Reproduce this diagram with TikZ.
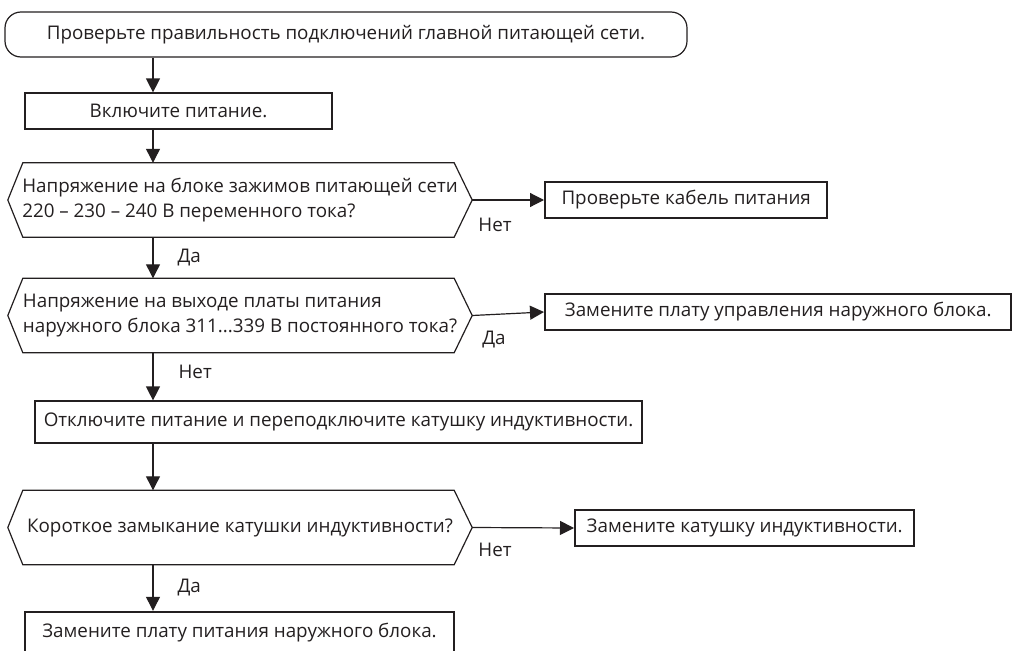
\documentclass[tikz,border=0pt]{standalone}
\usepackage{fontspec}
\setmainfont{Open Sans}
\usetikzlibrary{arrows.meta,positioning}
\definecolor{ink}{RGB}{35,31,32}

\begin{document}
\begin{tikzpicture}[x=1pt,y=-1pt,every node/.style={font=\fontsize{18.8}{25}\selectfont,text=ink},
  arr/.style={-{Triangle[width=14pt,length=14pt]},line width=1.2pt,draw=ink},
  plain/.style={draw=ink,line width=1.2pt,inner sep=0pt,align=center},
  heavy/.style={draw=ink,line width=2.4pt,inner sep=0pt,align=center},
  qbox/.style={inner sep=0pt,minimum width=464pt,minimum height=74pt,align=left},
  lbl/.style={inner sep=0pt}]
\useasboundingbox (0,0) rectangle (1013,651);
\coordinate (trunk) at (153,0);
% main column
\node[plain,rounded corners=16pt,minimum width=682pt,minimum height=45pt] (start) at (346,34.5) {Проверьте правильность подключений главной питающей сети.};
\node[plain,minimum width=307pt,minimum height=36pt] (on) at (178.5,111) {Включите питание.};
\node[qbox] (q1) at (240,200) {Напряжение на блоке зажимов питающей сети\\220 – 230 – 240 В переменного тока?};
\node[qbox] (q2) at (240,315.5) {Напряжение на выходе платы питания\\наружного блока 311...339 В постоянного тока?};
\node[plain,minimum width=607pt,minimum height=42pt] (off) at (338.5,422) {Отключите питание и переподключите катушку индуктивности.};
\node[qbox] (q3) at (240,527.5) {Короткое замыкание катушки индуктивности?};
\node[heavy,minimum width=429pt,minimum height=42pt] (psu) at (239.5,633) {Замените плату питания наружного блока.};
% side boxes
\node[heavy,anchor=west,minimum width=282pt,minimum height=36pt] (cable) at (544,200) {Проверьте кабель питания};
\node[heavy,anchor=west,minimum width=466pt,minimum height=36pt] (ctrl) at (544,312) {Замените плату управления наружного блока.};
\node[heavy,anchor=west,minimum width=339pt,minimum height=36pt] (coil) at (574,528) {Замените катушку индуктивности.};
% decision outlines
\foreach \q in {q1,q2,q3}
  \draw[ink,line width=1.2pt,line join=miter] (\q.west) -- ([xshift=15pt]\q.north west) -- ([xshift=-18pt]\q.north east) -- (\q.east) -- ([xshift=-18pt]\q.south east) -- ([xshift=15pt]\q.south west) -- cycle;
% connectors
\draw[arr] (start.south -| trunk) -- (on.north -| trunk);
\draw[arr] (on.south -| trunk) -- (q1.north -| trunk);
\draw[arr] (q1.south -| trunk) -- node[lbl,right=24pt] (yes1) {Да} (q2.north -| trunk);
\draw[arr] (q2.south -| trunk) -- node[lbl,right=25pt,pos=.4] (no2) {Нет} (off.north -| trunk);
\draw[arr] (off.south -| trunk) -- (q3.north -| trunk);
\draw[arr] (q3.south -| trunk) -- node[lbl,right=24pt] (yes3) {Да} (psu.north -| trunk);
\draw[arr] (q1.east) -- (cable.west);
\draw[arr] (q2.east) -- (ctrl.west);
\draw[arr] (q3.east) -- (coil.west);
\node[lbl,below right=18pt and 6pt of q1.east] (no1) {Нет};
\node[lbl,below right=15pt and 10pt of q2.east] (yes2) {Да};
\node[lbl,below right=15pt and 6pt of q3.east] (no3) {Нет};
\end{tikzpicture}
\end{document}
